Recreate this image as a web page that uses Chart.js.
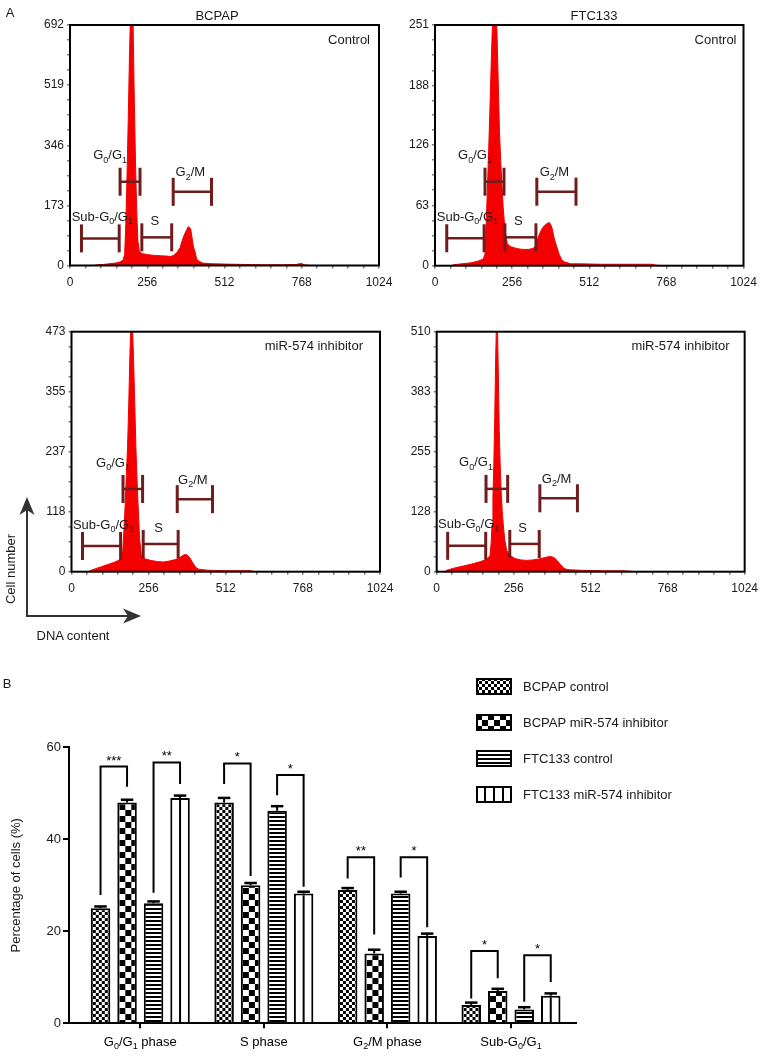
<!DOCTYPE html>
<html>
<head>
<meta charset="utf-8">
<script src="https://cdn.jsdelivr.net/npm/chart.js@4.4.0/dist/chart.umd.min.js"></script>
<style>
  html, body { margin: 0; padding: 0; background: #fff; }
  #page { position: relative; width: 765px; height: 1056px; overflow: hidden;
          font-family: "Liberation Sans", Arial, sans-serif; color: #1a1a1a; }
  #page canvas, #page svg { position: absolute; left: 0; top: 0; }
  .lbl { position: absolute; font-size: 13px; line-height: 1; white-space: nowrap;
         transform: translate(-50%, -50%); }
</style>
</head>
<body>
<div id="page">
  <canvas id="p1" width="765" height="1056"></canvas>
  <canvas id="p2" width="765" height="1056"></canvas>
  <canvas id="p3" width="765" height="1056"></canvas>
  <canvas id="p4" width="765" height="1056"></canvas>
  <canvas id="bars" width="765" height="1056"></canvas>
  <svg width="765" height="1056">
    <g stroke="#333" stroke-width="2" fill="none">
      <line x1="27" y1="617" x2="27" y2="508" />
      <line x1="26" y1="616" x2="130" y2="616" />
    </g>
    <polygon fill="#333" points="27,497 34.5,515 27,510 19.5,515" />
    <polygon fill="#333" points="141,616 123,608.5 128,616 123,623.5" />
  </svg>
  <div class="lbl" style="left:10px;top:12px">A</div>
  <div class="lbl" style="left:217px;top:15px">BCPAP</div>
  <div class="lbl" style="left:594px;top:15px">FTC133</div>
  <div class="lbl" style="left:10px;top:569px;transform:translate(-50%,-50%) rotate(-90deg)">Cell number</div>
  <div class="lbl" style="left:73px;top:635px">DNA content</div>
  <div class="lbl" style="left:7px;top:683px">B</div>
</div>

<script>
const FONT = '"Liberation Sans", Arial, sans-serif';
Chart.defaults.font.family = FONT;
Chart.defaults.color = '#1a1a1a';

// ---------- A: DNA content histograms ----------
const channelTicks = [0, 256, 512, 768, 1024];

const bcpapCtrlTicks = [0, 173, 346, 519, 692];
const bcpapCtrlCh = [0, 80, 88, 110, 130, 150, 165, 175, 181, 185, 189, 193, 197, 201, 205, 209, 213, 217, 221, 225, 230, 240, 260, 280, 300, 320, 335, 345, 355, 365, 376, 385, 392, 400, 409, 414, 420, 428, 440, 470, 520, 580, 640, 700, 750, 760, 768, 776, 800, 1024];
const bcpapCtrlCount = [0, 0, 2, 3, 5, 7, 10, 15, 30, 120, 260, 420, 600, 740, 780, 700, 480, 300, 160, 70, 40, 34, 31, 29, 28, 27, 26, 30, 38, 52, 83, 100, 112, 105, 54, 40, 18, 12, 7, 5, 4, 3, 2, 2, 3, 5, 6, 2, 0, 0];

const ftcCtrlTicks = [0, 63, 126, 188, 251];
const ftcCtrlCh = [0, 55, 61, 90, 120, 145, 160, 166, 170, 174, 178, 182, 186, 190, 194, 198, 202, 206, 210, 214, 218, 222, 226, 232, 240, 250, 270, 290, 310, 325, 333, 340, 348, 356, 364, 372, 380, 388, 396, 404, 412, 421, 430, 450, 480, 550, 620, 690, 720, 735, 760, 1024];
const ftcCtrlCount = [0, 0, 1, 2, 3, 5, 7, 12, 45, 80, 120, 160, 205, 245, 275, 290, 280, 240, 190, 140, 110, 85, 62, 38, 23, 20, 18, 17, 17, 18, 20, 27, 34, 39, 42, 44, 45, 40, 28, 20, 12, 6, 4, 2, 2, 1.5, 1.5, 1.5, 1.5, 0.5, 0, 0];

const bcpapInhTicks = [0, 118, 237, 355, 473];
const bcpapInhCh = [0, 55, 62, 80, 100, 120, 140, 155, 165, 170, 174, 178, 182, 186, 190, 194, 198, 202, 206, 210, 214, 218, 222, 226, 232, 245, 265, 285, 305, 325, 345, 360, 372, 382, 392, 402, 412, 422, 450, 500, 560, 595, 610, 1024];
const bcpapInhCount = [0, 0, 2, 6, 10, 14, 18, 22, 27, 40, 80, 130, 190, 245, 330, 430, 500, 490, 420, 330, 240, 175, 118, 65, 32, 25, 22, 20, 19, 21, 24, 28, 33, 34, 28, 18, 9, 5, 3, 2, 2, 2, 0, 0];

const ftcInhTicks = [0, 128, 255, 383, 510];
const ftcInhCh = [0, 28, 33, 60, 88, 115, 144, 165, 177, 181, 184, 187, 190, 193, 196, 199, 202, 205, 208, 211, 214, 218, 222, 227, 233, 243, 260, 280, 300, 320, 340, 360, 372, 382, 392, 402, 412, 422, 432, 445, 480, 550, 620, 645, 660, 1024];
const ftcInhCount = [0, 0, 3, 8, 12, 16, 21, 26, 34, 60, 100, 160, 230, 330, 450, 540, 520, 420, 300, 230, 175, 128, 95, 65, 45, 35, 28, 25, 24, 25, 27, 30, 32, 32, 29, 23, 15, 8, 5, 4, 3, 2, 2, 1, 0, 0];

// gates: Sub-G0/G1, G0/G1, S, G2/M  (channel from, channel to, count level)
const gateNames = ['Sub-G_0/G_1', 'G_0/G_1', 'S', 'G_2/M'];
const bcpapCtrlGateFrom = [38, 166, 238, 342];
const bcpapCtrlGateTo = [163, 232, 337, 469];
const bcpapCtrlGateLevel = [78, 241, 81, 212];
const ftcCtrlGateFrom = [39, 166, 232, 338];
const ftcCtrlGateTo = [163, 229, 335, 468];
const ftcCtrlGateLevel = [28.6, 87.6, 29.6, 77.2];
const bcpapInhGateFrom = [36.5, 171, 238, 351];
const bcpapInhGateTo = [163, 236, 354, 468];
const bcpapInhGateLevel = [50.7, 163, 54.6, 143];
const ftcInhGateFrom = [36.5, 164, 243, 343];
const ftcInhGateTo = [163, 236, 341, 468];
const ftcInhGateLevel = [55, 176, 59, 156];

const HIST_RED = 'rgb(245,0,0)';
const GATE_COLOR = '#701c1c';
const GATE_LABEL = [
  { at: 'mid', dx: 2, dy: -21 },
  { at: 'start', dx: -10, dy: -26 },
  { at: 'mid', dx: -2, dy: -15.5 },
  { at: 'mid', dx: -2, dy: -19 }
];
const PAGE_W = 765, PAGE_H = 1056, AX_W = 45, AX_H = 25;

// text with "_x" subscripts
function richParts(text) {
  const parts = [];
  let buf = '';
  for (let i = 0; i < text.length; i++) {
    if (text[i] === '_' && i + 1 < text.length) {
      if (buf) parts.push({ t: buf, sub: false });
      buf = '';
      parts.push({ t: text[i + 1], sub: true });
      i++;
    } else {
      buf += text[i];
    }
  }
  if (buf) parts.push({ t: buf, sub: false });
  return parts;
}

function drawRich(ctx, text, x, y, size, align) {
  const parts = richParts(text);
  const big = size + 'px ' + FONT;
  const small = Math.round(size * 0.72) + 'px ' + FONT;
  let w = 0;
  parts.forEach(p => {
    ctx.font = p.sub ? small : big;
    p.w = ctx.measureText(p.t).width;
    w += p.w;
  });
  let cx = align === 'center' ? x - w / 2 : (align === 'right' ? x - w : x);
  ctx.textAlign = 'left';
  ctx.textBaseline = 'middle';
  parts.forEach(p => {
    ctx.font = p.sub ? small : big;
    ctx.fillText(p.t, cx, p.sub ? y + size * 0.35 : y);
    cx += p.w;
  });
}

function seg(ctx, x0, y0, x1, y1) {
  ctx.beginPath();
  ctx.moveTo(x0, y0);
  ctx.lineTo(x1, y1);
  ctx.stroke();
}

function withMinors(majors, parts) {
  const out = [];
  for (let i = 0; i < majors.length - 1; i++) {
    for (let k = 0; k < parts; k++) out.push(majors[i] + (majors[i + 1] - majors[i]) * k / parts);
  }
  out.push(majors[majors.length - 1]);
  return out;
}

const isMajor = (v, majors) => majors.some(m => Math.abs(m - v) < 1e-6);

const histPlugin = {
  id: 'hist',
  afterDatasetsDraw(chart, args, opts) {
    const { ctx, chartArea: a, scales: { x, y } } = chart;
    ctx.save();
    opts.from.forEach((f, i) => {
      const x0 = x.getPixelForValue(f);
      const x1 = x.getPixelForValue(opts.to[i]);
      const yy = y.getPixelForValue(opts.level[i]);
      ctx.strokeStyle = GATE_COLOR;
      ctx.lineWidth = 2.5;
      seg(ctx, x0, yy, x1, yy);
      ctx.lineWidth = 3;
      seg(ctx, x0, yy - 14, x0, yy + 14);
      seg(ctx, x1, yy - 14, x1, yy + 14);
      const lab = GATE_LABEL[i];
      const ax = lab.at === 'start' ? x0 : (x0 + x1) / 2;
      ctx.fillStyle = '#1a1a1a';
      drawRich(ctx, gateNames[i], ax + lab.dx, yy + lab.dy, 13, 'center');
    });
    ctx.strokeStyle = '#000';
    ctx.lineWidth = 2;
    ctx.strokeRect(a.left, a.top, a.right - a.left, a.bottom - a.top);
    ctx.fillStyle = '#1a1a1a';
    ctx.font = '13px ' + FONT;
    ctx.textAlign = 'right';
    ctx.textBaseline = 'middle';
    ctx.fillText(opts.corner, a.right - opts.inset, a.top + 15);
    ctx.restore();
  }
};

function histogram(p) {
  const xTicks = withMinors(channelTicks, 5);
  const yTicks = withMinors(p.ticks, 4);
  const axisGrid = { drawOnChartArea: false, tickLength: 3, color: '#808080', lineWidth: 1.5 };
  new Chart(document.getElementById(p.id), {
    type: 'line',
    data: {
      datasets: [{
        data: p.ch.map((c, i) => ({ x: c, y: p.count[i] })),
        fill: 'origin',
        backgroundColor: HIST_RED,
        borderColor: HIST_RED,
        borderWidth: 1,
        pointRadius: 0,
        tension: 0
      }]
    },
    options: {
      responsive: false,
      animation: false,
      events: [],
      layout: {
        padding: {
          left: p.area[0] - AX_W,
          top: p.area[1],
          right: PAGE_W - p.area[2],
          bottom: PAGE_H - p.area[3] - AX_H
        }
      },
      plugins: {
        legend: { display: false },
        tooltip: { enabled: false },
        hist: { from: p.gates[0], to: p.gates[1], level: p.gates[2], corner: p.corner, inset: p.inset }
      },
      scales: {
        x: {
          type: 'linear', min: 0, max: 1024,
          afterFit: s => { s.height = AX_H; },
          afterBuildTicks: s => { s.ticks = xTicks.map(v => ({ value: v })); },
          grid: axisGrid,
          border: { display: false },
          ticks: {
            autoSkip: false, maxRotation: 0, padding: 7, color: '#1a1a1a', font: { size: 12 },
            callback: v => isMajor(v, channelTicks) ? String(Math.round(v)) : ''
          }
        },
        y: {
          type: 'linear', min: 0, max: p.ticks[p.ticks.length - 1],
          afterFit: s => { s.width = AX_W; },
          afterBuildTicks: s => { s.ticks = yTicks.map(v => ({ value: v })); },
          grid: axisGrid,
          border: { display: false },
          ticks: {
            autoSkip: false, padding: 3, color: '#1a1a1a', font: { size: 12 },
            callback: v => isMajor(v, p.ticks) ? String(Math.round(v)) : ''
          }
        }
      }
    },
    plugins: [histPlugin]
  });
}

histogram({ id: 'p1', area: [70, 25, 379, 265.5], ticks: bcpapCtrlTicks, ch: bcpapCtrlCh, count: bcpapCtrlCount,
  gates: [bcpapCtrlGateFrom, bcpapCtrlGateTo, bcpapCtrlGateLevel], corner: 'Control', inset: 9 });
histogram({ id: 'p2', area: [435, 25, 743.5, 265.7], ticks: ftcCtrlTicks, ch: ftcCtrlCh, count: ftcCtrlCount,
  gates: [ftcCtrlGateFrom, ftcCtrlGateTo, ftcCtrlGateLevel], corner: 'Control', inset: 7 });
histogram({ id: 'p3', area: [71.5, 331.7, 380, 571.7], ticks: bcpapInhTicks, ch: bcpapInhCh, count: bcpapInhCount,
  gates: [bcpapInhGateFrom, bcpapInhGateTo, bcpapInhGateLevel], corner: 'miR-574 inhibitor', inset: 17 });
histogram({ id: 'p4', area: [436.7, 331.7, 745, 571.7], ticks: ftcInhTicks, ch: ftcInhCh, count: ftcInhCount,
  gates: [ftcInhGateFrom, ftcInhGateTo, ftcInhGateLevel], corner: 'miR-574 inhibitor', inset: 15 });

// ---------- B: cell-cycle percentages ----------
const phases = ['G_0/G_1 phase', 'S phase', 'G_2/M phase', 'Sub-G_0/G_1'];
const seriesNames = ['BCPAP control', 'BCPAP miR-574 inhibitor', 'FTC133 control', 'FTC133 miR-574 inhibitor'];
const bcpapControl = [25.0, 48.0, 29.0, 4.0];
const bcpapInhibitor = [48.0, 30.0, 15.2, 7.0];
const ftcControl = [26.1, 46.2, 28.2, 3.0];
const ftcInhibitor = [49.0, 28.2, 19.0, 6.0];
const bcpapControlErr = [0.4, 1.0, 0.4, 0.5];
const bcpapInhibitorErr = [0.6, 0.5, 0.8, 0.5];
const ftcControlErr = [0.4, 1.0, 0.4, 0.5];
const ftcInhibitorErr = [0.5, 0.4, 0.5, 0.5];
const percentTicks = [0, 20, 40, 60];

// significance brackets per phase: [BCPAP pair, FTC133 pair]
const sigTop = [[55.8, 56.7], [56.5, 54.0], [36.1, 36.1], [15.7, 14.8]];
const sigLeftEnd = [[27.9, 28.4], [52.0, 49.6], [31.5, 31.7], [5.4, 4.7]];
const sigRightEnd = [[51.4, 52.0], [32.0, 29.7], [19.3, 20.9], [9.8, 9.0]];
const sigStars = [['***', '**'], ['*', '*'], ['**', '*'], ['*', '*']];

const seriesValues = [bcpapControl, bcpapInhibitor, ftcControl, ftcInhibitor];
const seriesErrors = [bcpapControlErr, bcpapInhibitorErr, ftcControlErr, ftcInhibitorErr];

const CAT_PCT = 0.858, BAR_PCT = 0.736;
const BAR_AREA = [69, 747.3, 575.6, 1023.3];
const BAR_Y_W = 69, BAR_X_H = 30;

function tile(w, h, paint) {
  const c = document.createElement('canvas');
  c.width = w; c.height = h;
  const g = c.getContext('2d');
  g.fillStyle = '#fff'; g.fillRect(0, 0, w, h);
  g.fillStyle = '#000'; paint(g);
  return c;
}
const tiles = [
  tile(6, 6, g => { g.fillRect(0, 0, 3, 3); g.fillRect(3, 3, 3, 3); }),
  tile(12, 12, g => { g.fillRect(0, 0, 6, 6); g.fillRect(6, 6, 6, 6); }),
  tile(4, 4, g => { g.fillRect(0, 0, 4, 2); }),
  tile(9, 9, g => { g.fillRect(0, 0, 2, 9); })
];
function patternAt(ctx, t, dx, dy) {
  const p = ctx.createPattern(t, 'repeat');
  p.setTransform(new DOMMatrix([1, 0, 0, 1, dx, dy]));
  return p;
}

function barFill(d) {
  return c => {
    const chart = c.chart;
    const xs = chart.scales.x;
    if (!xs || c.dataIndex === undefined) return '#fff';
    const step = xs.getPixelForValue(1) - xs.getPixelForValue(0);
    const chunk = step * CAT_PCT / 4;
    const cx = xs.getPixelForValue(c.dataIndex) + (d - 1.5) * chunk;
    const dx = d === 3 ? cx - 1 : cx - chunk * BAR_PCT / 2 + 2;
    return patternAt(chart.ctx, tiles[d], dx, 0);
  };
}

const barExtras = {
  id: 'barExtras',
  afterDatasetsDraw(chart) {
    const { ctx, scales: { x, y } } = chart;
    ctx.save();
    ctx.strokeStyle = '#000';
    ctx.fillStyle = '#000';
    // error bars
    seriesValues.forEach((vals, d) => {
      chart.getDatasetMeta(d).data.forEach((bar, c) => {
        const yv = y.getPixelForValue(vals[c]);
        const ye = y.getPixelForValue(vals[c] + seriesErrors[d][c]);
        const hw = bar.width * 0.32;
        ctx.lineWidth = 2;
        seg(ctx, bar.x, yv, bar.x, ye);
        ctx.lineWidth = 2.5;
        seg(ctx, bar.x - hw, ye, bar.x + hw, ye);
      });
    });
    // significance brackets
    ctx.lineWidth = 2;
    phases.forEach((ph, c) => {
      [[0, 1], [2, 3]].forEach((pair, k) => {
        const xl = chart.getDatasetMeta(pair[0]).data[c].x;
        const xr = chart.getDatasetMeta(pair[1]).data[c].x;
        const yt = y.getPixelForValue(sigTop[c][k]);
        ctx.beginPath();
        ctx.moveTo(xl, y.getPixelForValue(sigLeftEnd[c][k]));
        ctx.lineTo(xl, yt);
        ctx.lineTo(xr, yt);
        ctx.lineTo(xr, y.getPixelForValue(sigRightEnd[c][k]));
        ctx.stroke();
        ctx.font = '13px ' + FONT;
        ctx.textAlign = 'center';
        ctx.textBaseline = 'alphabetic';
        ctx.fillText(sigStars[c][k], (xl + xr) / 2, yt - 2);
      });
      drawRich(ctx, ph, x.getPixelForValue(c), 1042, 13, 'center');
    });
    // legend
    const lx = 476, lw = 36, lh = 17, ly0 = 678, lgap = 36;
    seriesNames.forEach((name, d) => {
      const ly = ly0 + d * lgap;
      ctx.fillStyle = patternAt(ctx, tiles[d], d === 3 ? lx - 1 : lx, ly);
      ctx.fillRect(lx, ly, lw, lh);
      ctx.lineWidth = 2;
      ctx.strokeRect(lx + 1, ly + 1, lw - 2, lh - 2);
      ctx.fillStyle = '#1a1a1a';
      ctx.font = '13px ' + FONT;
      ctx.textAlign = 'left';
      ctx.textBaseline = 'middle';
      ctx.fillText(name, 523, ly + lh / 2 + 0.5);
    });
    ctx.restore();
  }
};

new Chart(document.getElementById('bars'), {
  type: 'bar',
  data: {
    datasets: seriesValues.map((vals, d) => ({
      label: seriesNames[d],
      data: vals.map((v, i) => ({ x: i, y: v })),
      backgroundColor: barFill(d),
      borderColor: '#000',
      borderWidth: 2,
      borderSkipped: 'start',
      categoryPercentage: CAT_PCT,
      barPercentage: BAR_PCT
    }))
  },
  options: {
    responsive: false,
    animation: false,
    events: [],
    layout: {
      padding: {
        left: BAR_AREA[0] - BAR_Y_W,
        top: BAR_AREA[1],
        right: PAGE_W - BAR_AREA[2],
        bottom: PAGE_H - BAR_AREA[3] - BAR_X_H
      }
    },
    plugins: { legend: { display: false }, tooltip: { enabled: false } },
    scales: {
      x: {
        type: 'linear', min: -0.577, max: 3.523, offset: false,
        afterFit: s => { s.height = BAR_X_H; },
        afterBuildTicks: s => { s.ticks = phases.map((p, i) => ({ value: i })); },
        grid: { offset: false, drawOnChartArea: false, tickLength: 5, color: '#000', lineWidth: 2 },
        border: { color: '#000', width: 2 },
        ticks: { autoSkip: false, maxRotation: 0, callback: () => '' }
      },
      y: {
        type: 'linear', min: 0, max: 60,
        afterFit: s => { s.width = BAR_Y_W; },
        afterBuildTicks: s => { s.ticks = percentTicks.map(v => ({ value: v })); },
        grid: { drawOnChartArea: false, tickLength: 6, color: '#000', lineWidth: 2 },
        border: { color: '#000', width: 2 },
        ticks: { padding: 2, color: '#1a1a1a', font: { size: 13 } },
        title: { display: true, text: 'Percentage of cells (%)', color: '#1a1a1a',
                 font: { size: 13 }, padding: { top: 9, bottom: 0 } }
      }
    }
  },
  plugins: [barExtras]
});
</script>
</body>
</html>
